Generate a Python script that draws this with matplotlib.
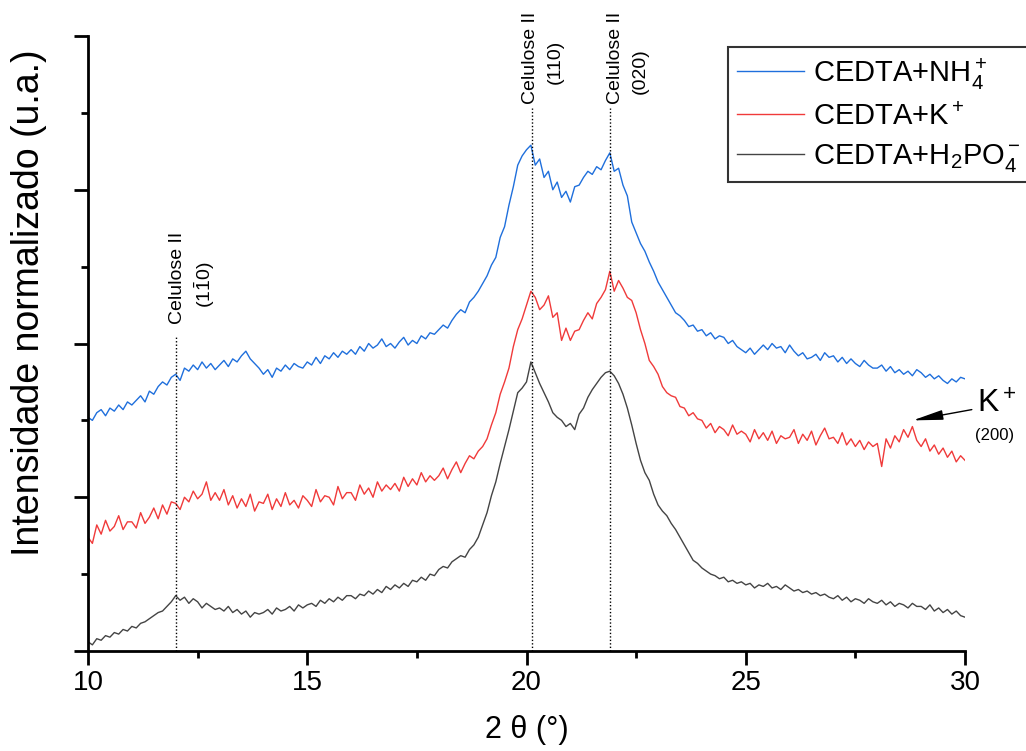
import numpy as np
import matplotlib
matplotlib.use('Agg')
import matplotlib.pyplot as plt
from matplotlib.ticker import MultipleLocator

plt.rcParams['font.family'] = ['Liberation Sans', 'DejaVu Sans']
plt.rcParams['mathtext.fontset'] = 'custom'
plt.rcParams['mathtext.rm'] = 'Liberation Sans'
plt.rcParams['mathtext.it'] = 'Liberation Sans:italic'

# 2 theta (graus), passo de 0.1
dois_theta = np.linspace(10, 30, 201)

# intensidade normalizada (deslocada) - CEDTA+NH4+
nh4 = [1.52, 1.50, 1.55, 1.57, 1.53, 1.58, 1.56, 1.60, 1.57, 1.62,
       1.60, 1.63, 1.66, 1.62, 1.69, 1.67, 1.72, 1.75, 1.73, 1.78,
       1.80, 1.76, 1.84, 1.82, 1.86, 1.83, 1.88, 1.84, 1.87, 1.83,
       1.86, 1.89, 1.85, 1.90, 1.88, 1.92, 1.95, 1.90, 1.87, 1.84,
       1.80, 1.83, 1.78, 1.84, 1.82, 1.86, 1.83, 1.87, 1.85, 1.84,
       1.88, 1.86, 1.91, 1.87, 1.92, 1.90, 1.94, 1.91, 1.95, 1.93,
       1.96, 1.93, 1.98, 1.95, 2.00, 1.97, 1.99, 2.03, 1.98, 2.00,
       1.97, 2.01, 2.04, 1.99, 2.02, 2.00, 2.05, 2.03, 2.07, 2.06,
       2.09, 2.12, 2.10, 2.15, 2.19, 2.22, 2.20, 2.27, 2.30, 2.34,
       2.39, 2.44, 2.51, 2.56, 2.69, 2.76, 2.90, 3.02, 3.16, 3.22,
       3.26, 3.29, 3.16, 3.20, 3.08, 3.12, 3.00, 3.05, 2.95, 2.99,
       2.92, 3.02, 3.03, 3.08, 3.12, 3.10, 3.15, 3.13, 3.19, 3.24,
       3.12, 3.14, 3.03, 2.96, 2.79, 2.72, 2.65, 2.60, 2.53, 2.47,
       2.40, 2.35, 2.30, 2.25, 2.20, 2.18, 2.15, 2.11, 2.12, 2.08,
       2.09, 2.05, 2.07, 2.03, 2.05, 2.04, 2.00, 2.02, 1.98, 1.96,
       1.94, 1.97, 1.93, 1.96, 1.99, 1.96, 2.00, 1.97, 1.98, 1.94,
       1.99, 1.95, 1.92, 1.94, 1.90, 1.91, 1.93, 1.89, 1.94, 1.91,
       1.92, 1.88, 1.91, 1.87, 1.90, 1.87, 1.85, 1.89, 1.86, 1.84,
       1.84, 1.86, 1.82, 1.85, 1.81, 1.83, 1.80, 1.82, 1.79, 1.83,
       1.81, 1.78, 1.80, 1.77, 1.79, 1.76, 1.74, 1.77, 1.75, 1.78,
       1.77]

# CEDTA+K+
k = [0.74, 0.70, 0.82, 0.76, 0.85, 0.78, 0.81, 0.88, 0.79, 0.84,
     0.84, 0.80, 0.90, 0.83, 0.87, 0.93, 0.86, 0.95, 0.89, 0.97,
     0.96, 0.92, 1.00, 0.97, 1.04, 0.99, 1.02, 1.10, 0.98, 1.03,
     0.98, 1.05, 0.95, 1.01, 0.93, 0.99, 0.94, 1.02, 0.91, 0.97,
     0.96, 1.02, 0.92, 0.99, 0.94, 1.03, 0.95, 0.98, 0.93, 1.01,
     0.98, 0.94, 1.05, 0.97, 1.01, 1.00, 0.95, 1.07, 0.99, 1.03,
     1.03, 0.98, 1.08, 1.02, 1.06, 1.00, 1.10, 1.04, 1.08, 1.05,
     1.09, 1.04, 1.13, 1.07, 1.12, 1.08, 1.16, 1.10, 1.14, 1.11,
     1.14, 1.19, 1.12, 1.18, 1.23, 1.16, 1.22, 1.27, 1.25, 1.30,
     1.33, 1.38, 1.47, 1.55, 1.67, 1.75, 1.84, 1.98, 2.09, 2.16,
     2.25, 2.34, 2.30, 2.22, 2.25, 2.31, 2.17, 2.20, 2.02, 2.10,
     2.02, 2.08, 2.09, 2.15, 2.20, 2.16, 2.26, 2.30, 2.35, 2.47,
     2.34, 2.41, 2.36, 2.30, 2.28, 2.20, 2.09, 2.00, 1.89, 1.85,
     1.80, 1.72, 1.68, 1.66, 1.65, 1.59, 1.58, 1.53, 1.55, 1.51,
     1.50, 1.45, 1.48, 1.42, 1.46, 1.44, 1.40, 1.47, 1.41, 1.43,
     1.41, 1.36, 1.44, 1.38, 1.42, 1.37, 1.43, 1.35, 1.40, 1.38,
     1.39, 1.44, 1.35, 1.41, 1.37, 1.43, 1.34, 1.40, 1.45, 1.38,
     1.39, 1.35, 1.42, 1.34, 1.38, 1.33, 1.37, 1.31, 1.36, 1.33,
     1.35, 1.20, 1.38, 1.32, 1.40, 1.36, 1.44, 1.39, 1.46, 1.37,
     1.33, 1.38, 1.30, 1.34, 1.28, 1.32, 1.26, 1.30, 1.23, 1.27,
     1.24]

# CEDTA+H2PO4-
h2po4 = [0.06, 0.04, 0.08, 0.07, 0.10, 0.09, 0.12, 0.11, 0.14, 0.13,
         0.16, 0.15, 0.18, 0.19, 0.21, 0.23, 0.25, 0.26, 0.29, 0.32,
         0.36, 0.33, 0.35, 0.31, 0.34, 0.32, 0.28, 0.31, 0.29, 0.27,
         0.28, 0.26, 0.29, 0.25, 0.27, 0.24, 0.26, 0.22, 0.25, 0.24,
         0.25, 0.27, 0.24, 0.28, 0.26, 0.27, 0.29, 0.26, 0.30, 0.28,
         0.30, 0.31, 0.29, 0.33, 0.31, 0.34, 0.32, 0.35, 0.33, 0.36,
         0.36, 0.34, 0.37, 0.36, 0.39, 0.37, 0.40, 0.38, 0.42, 0.40,
         0.43, 0.41, 0.44, 0.42, 0.46, 0.45, 0.48, 0.46, 0.50, 0.49,
         0.53, 0.55, 0.54, 0.58, 0.60, 0.62, 0.61, 0.66, 0.69, 0.74,
         0.82, 0.90, 1.01, 1.10, 1.22, 1.33, 1.44, 1.56, 1.68, 1.71,
         1.75, 1.88, 1.81, 1.74, 1.68, 1.62, 1.55, 1.52, 1.50, 1.46,
         1.48, 1.44, 1.54, 1.58, 1.65, 1.70, 1.74, 1.78, 1.81, 1.82,
         1.79, 1.74, 1.67, 1.58, 1.47, 1.35, 1.24, 1.16, 1.11, 1.02,
         0.95, 0.91, 0.88, 0.83, 0.79, 0.74, 0.69, 0.64, 0.59, 0.57,
         0.54, 0.52, 0.50, 0.49, 0.47, 0.48, 0.45, 0.46, 0.44, 0.45,
         0.43, 0.44, 0.41, 0.43, 0.42, 0.44, 0.41, 0.42, 0.40, 0.43,
         0.41, 0.39, 0.40, 0.38, 0.39, 0.37, 0.38, 0.36, 0.37, 0.35,
         0.34, 0.36, 0.33, 0.35, 0.32, 0.34, 0.33, 0.31, 0.34, 0.32,
         0.31, 0.33, 0.30, 0.32, 0.29, 0.31, 0.30, 0.28, 0.31, 0.29,
         0.29, 0.27, 0.30, 0.26, 0.28, 0.25, 0.27, 0.24, 0.26, 0.23,
         0.22]

rotulos = [r'CEDTA+NH$_4^+$', r'CEDTA+K$^+$', r'CEDTA+H$_2$PO$_4^-$']
cores = ['#1f6fdc', '#f03a3a', '#444444']

# picos da celulose II
picos = [12.0, 20.13, 21.9]
topo_picos = [2.05, 3.53, 3.53]

fig = plt.figure(figsize=(10.26, 7.51), dpi=100)
ax = fig.add_axes([88/1026, 100/751, 877/1026, 615/751])

ax.plot(dois_theta, nh4, color=cores[0], lw=1.0, label=rotulos[0])
ax.plot(dois_theta, k, color=cores[1], lw=1.0, label=rotulos[1])
ax.plot(dois_theta, h2po4, color=cores[2], lw=1.0, label=rotulos[2])

for xp, yt in zip(picos, topo_picos):
    ax.plot([xp, xp], [0, yt], color='black', ls=(0, (1, 1.5)), lw=1.0)

ax.text(12.03, 2.43, 'Celulose II', rotation=90, ha='center', va='center', fontsize=14)
ax.text(12.67, 2.38, r'$\mathregular{(1\bar{1}0)}$', rotation=90, ha='center', va='center', fontsize=14)
ax.text(20.10, 3.86, 'Celulose II', rotation=90, ha='center', va='center', fontsize=14)
ax.text(20.65, 3.83, '(110)', rotation=90, ha='center', va='center', fontsize=14)
ax.text(22.04, 3.86, 'Celulose II', rotation=90, ha='center', va='center', fontsize=14)
ax.text(22.59, 3.77, '(020)', rotation=90, ha='center', va='center', fontsize=14)

ax.annotate(r'K$^+$', xy=(28.81, 1.50), xytext=(30.73, 1.60), fontsize=23,
            ha='center', va='center', annotation_clip=False,
            arrowprops=dict(arrowstyle='-|>,head_length=0.8,head_width=0.13',
                            color='black', lw=1.0, shrinkA=2, shrinkB=0))
ax.text(30.68, 1.40, '(200)', fontsize=12, ha='center', va='center')

ax.set_xlim(10, 30)
ax.set_ylim(0, 4)
ax.xaxis.set_major_locator(MultipleLocator(5))
ax.xaxis.set_minor_locator(MultipleLocator(2.5))
ax.yaxis.set_major_locator(MultipleLocator(1))
ax.yaxis.set_minor_locator(MultipleLocator(0.5))
ax.tick_params(which='major', length=10, width=2, labelsize=20, direction='out')
ax.tick_params(which='minor', length=5, width=2, direction='out')
ax.tick_params(axis='y', labelleft=False)
for s in ['top', 'right']:
    ax.spines[s].set_visible(False)
for s in ['left', 'bottom']:
    ax.spines[s].set_linewidth(2)

ax.set_xlabel('2 θ (°)', fontsize=22, labelpad=14)
ax.set_ylabel('Intensidade normalizado (u.a.)', fontsize=27)
ax.yaxis.set_label_coords(-0.047, 0.567)

leg = ax.legend(loc='upper left', bbox_to_anchor=(728/1026, 1 - 47/751),
                bbox_transform=fig.transFigure, borderaxespad=0, fontsize=21,
                fancybox=False, edgecolor='#333333', framealpha=1,
                handlelength=2.3, handletextpad=0.3, labelspacing=0.38,
                borderpad=0.3)
leg.get_frame().set_linewidth(1.5)

fig.savefig('out.png', dpi=100)
